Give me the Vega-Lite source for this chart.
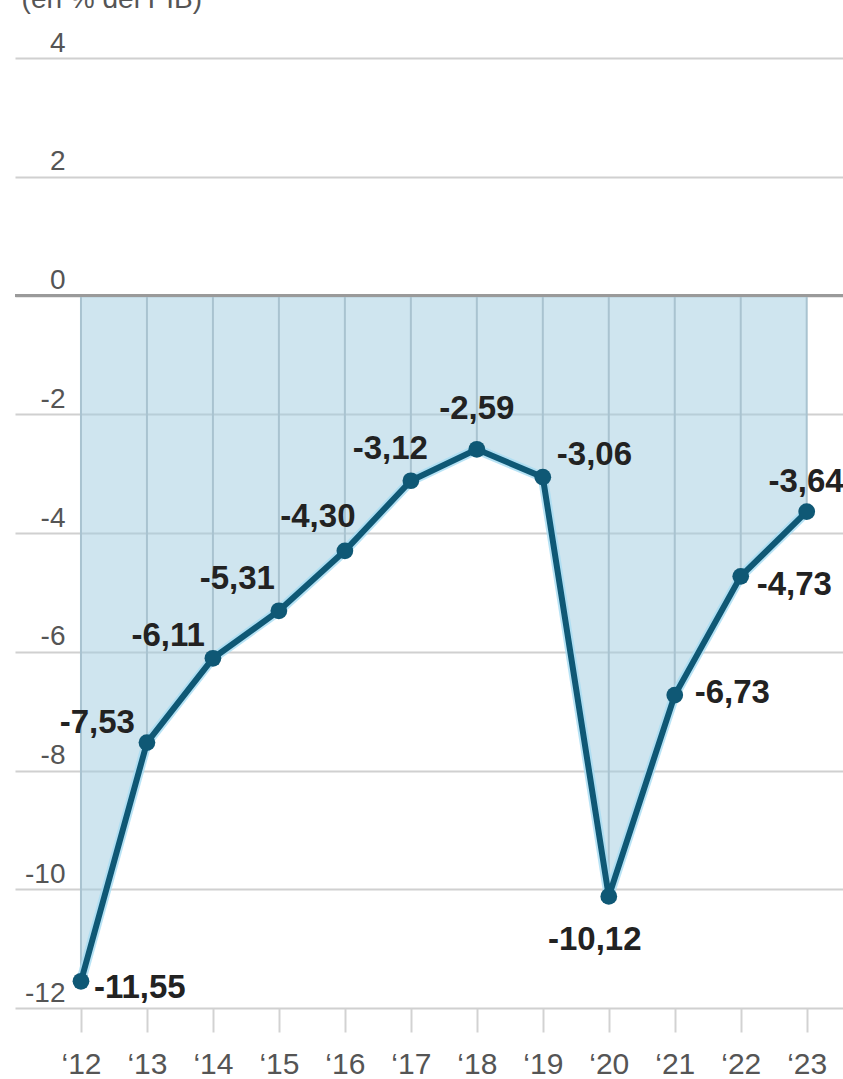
{
  "$schema": "https://vega.github.io/schema/vega-lite/v6.json",
  "width": 828,
  "height": 950,
  "autosize": {"type": "none"},
  "padding": {"left": 15, "top": 58, "right": 0, "bottom": 71},
  "background": "white",
  "config": {"view": {"stroke": null}, "font": "Liberation Sans"},
  "datasets": {
    "deficit": [
      {"year": 2012, "value": -11.55, "label": "-11,55"},
      {"year": 2013, "value": -7.53, "label": "-7,53"},
      {"year": 2014, "value": -6.11, "label": "-6,11"},
      {"year": 2015, "value": -5.31, "label": "-5,31"},
      {"year": 2016, "value": -4.30, "label": "-4,30"},
      {"year": 2017, "value": -3.12, "label": "-3,12"},
      {"year": 2018, "value": -2.59, "label": "-2,59"},
      {"year": 2019, "value": -3.06, "label": "-3,06"},
      {"year": 2020, "value": -10.12, "label": "-10,12"},
      {"year": 2021, "value": -6.73, "label": "-6,73"},
      {"year": 2022, "value": -4.73, "label": "-4,73"},
      {"year": 2023, "value": -3.64, "label": "-3,64"}
    ],
    "note": [{"x": 2011.1, "y": 4.84, "note": "(en % del PIB)"}]
  },
  "data": {"name": "deficit"},
  "encoding": {
    "x": {"field": "year", "type": "quantitative",
      "scale": {"domain": [2011, 2023.55], "nice": false, "zero": false},
      "axis": {"title": null, "values": [2012,2013,2014,2015,2016,2017,2018,2019,2020,2021,2022,2023],
        "format": "d", "labelExpr": "'\u2018' + slice(datum.label, 2)", "grid": false, "domain": false,
        "ticks": true, "tickSize": 24, "tickColor": "#d2d2d2", "tickWidth": 2,
        "labelPadding": 41, "labelBaseline": "alphabetic", "labelFontSize": 30, "labelColor": "#555555",
        "labelFlush": false, "labelOverlap": false}},
    "y": {"field": "value", "type": "quantitative",
      "scale": {"domain": [-12, 4], "nice": false, "zero": false},
      "axis": {"title": null, "values": [-12,-10,-8,-6,-4,-2,0,2,4], "grid": true, "gridColor": "#d0d0d0", "gridWidth": 2,
        "labelExpr": "toString(datum.value)",
        "domain": false, "ticks": false, "labelPadding": -50, "labelAlign": "right", "labelBaseline": "bottom",
        "labelOffset": -1, "labelFontSize": 28, "labelColor": "#555555", "labelFlush": false}}
  },
  "layer": [
    {"mark": {"type": "area", "color": "#9fcbe0", "opacity": 0.5}, "encoding": {"y2": {"datum": 0}}},
    {"mark": {"type": "rule", "color": "#a9c3d0", "strokeWidth": 2}, "encoding": {"y2": {"datum": 0}}},
    {"mark": {"type": "rule", "color": "#9a9a9a", "strokeWidth": 2.5}, "encoding": {"x": {"value": 0}, "x2": {"value": 828}, "y": {"datum": 0}}},
    {"mark": {"type": "line", "color": "#a6dcf2", "strokeWidth": 10, "opacity": 0.8}},
    {"mark": {"type": "line", "color": "#0f5875", "strokeWidth": 6}},
    {"mark": {"type": "point", "shape": "circle", "filled": true, "size": 280, "color": "#0f5875", "opacity": 1}},
    {"transform": [{"filter": "datum.year == 2012"}], "mark": {"type": "text", "align": "left", "baseline": "middle", "dx": 13, "dy": 7, "fontSize": 33, "fontWeight": "bold", "color": "#222222"}, "encoding": {"text": {"field": "label"}}},
    {"transform": [{"filter": "datum.year == 2013"}], "mark": {"type": "text", "align": "right", "baseline": "middle", "dx": -12, "dy": -20, "fontSize": 33, "fontWeight": "bold", "color": "#222222"}, "encoding": {"text": {"field": "label"}}},
    {"transform": [{"filter": "datum.year == 2014"}], "mark": {"type": "text", "align": "right", "baseline": "middle", "dx": -8, "dy": -22, "fontSize": 33, "fontWeight": "bold", "color": "#222222"}, "encoding": {"text": {"field": "label"}}},
    {"transform": [{"filter": "datum.year == 2015"}], "mark": {"type": "text", "align": "right", "baseline": "middle", "dx": -4, "dy": -32, "fontSize": 33, "fontWeight": "bold", "color": "#222222"}, "encoding": {"text": {"field": "label"}}},
    {"transform": [{"filter": "datum.year == 2016"}], "mark": {"type": "text", "align": "center", "baseline": "middle", "dx": -27, "dy": -34, "fontSize": 33, "fontWeight": "bold", "color": "#222222"}, "encoding": {"text": {"field": "label"}}},
    {"transform": [{"filter": "datum.year == 2017"}], "mark": {"type": "text", "align": "right", "baseline": "middle", "dx": 17, "dy": -32, "fontSize": 33, "fontWeight": "bold", "color": "#222222"}, "encoding": {"text": {"field": "label"}}},
    {"transform": [{"filter": "datum.year == 2018"}], "mark": {"type": "text", "align": "center", "baseline": "middle", "dx": 0, "dy": -40, "fontSize": 33, "fontWeight": "bold", "color": "#222222"}, "encoding": {"text": {"field": "label"}}},
    {"transform": [{"filter": "datum.year == 2019"}], "mark": {"type": "text", "align": "left", "baseline": "middle", "dx": 14, "dy": -22, "fontSize": 33, "fontWeight": "bold", "color": "#222222"}, "encoding": {"text": {"field": "label"}}},
    {"transform": [{"filter": "datum.year == 2020"}], "mark": {"type": "text", "align": "center", "baseline": "middle", "dx": -14, "dy": 44, "fontSize": 33, "fontWeight": "bold", "color": "#222222"}, "encoding": {"text": {"field": "label"}}},
    {"transform": [{"filter": "datum.year == 2021"}], "mark": {"type": "text", "align": "left", "baseline": "middle", "dx": 20, "dy": -2, "fontSize": 33, "fontWeight": "bold", "color": "#222222"}, "encoding": {"text": {"field": "label"}}},
    {"transform": [{"filter": "datum.year == 2022"}], "mark": {"type": "text", "align": "left", "baseline": "middle", "dx": 16, "dy": 9, "fontSize": 33, "fontWeight": "bold", "color": "#222222"}, "encoding": {"text": {"field": "label"}}},
    {"transform": [{"filter": "datum.year == 2023"}], "mark": {"type": "text", "align": "right", "baseline": "middle", "dx": 37, "dy": -30, "fontSize": 33, "fontWeight": "bold", "color": "#222222"}, "encoding": {"text": {"field": "label"}}},
    {"data": {"name": "note"}, "mark": {"type": "text", "align": "left", "baseline": "alphabetic", "fontSize": 28, "color": "#555555"}, "encoding": {"x": {"field": "x", "type": "quantitative"}, "y": {"field": "y", "type": "quantitative"}, "text": {"field": "note"}}}
  ]
}
